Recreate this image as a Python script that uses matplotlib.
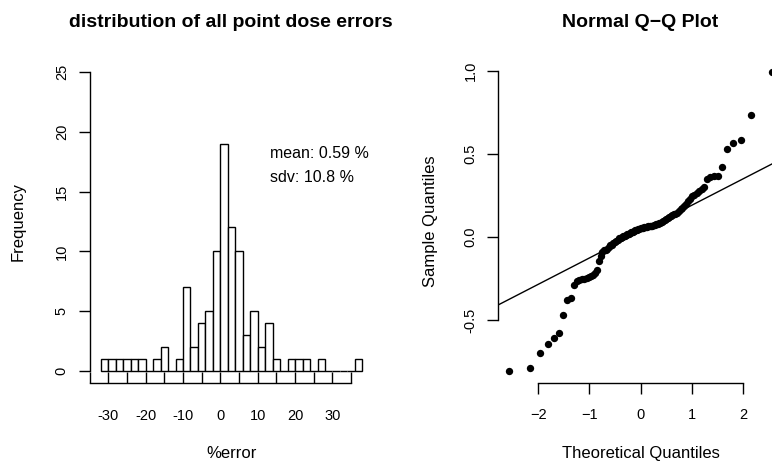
import numpy as np
import matplotlib
matplotlib.use('Agg')
import matplotlib.pyplot as plt
from statistics import NormalDist

plt.rcParams['font.family'] = ['Liberation Sans', 'DejaVu Sans']
plt.rcParams['axes.unicode_minus'] = True

# histogram of point dose errors (%), 2 % wide bins
bin_edges = np.arange(-32, 40, 2)
counts = [1, 1, 1, 1, 1, 1, 0, 1, 2, 0, 1, 7, 2, 4, 5, 10, 19, 12,
          10, 3, 5, 2, 4, 1, 0, 1, 1, 1, 0, 1, 0, 0, 0, 0, 1]
mean_err = 0.59
sdv_err = 10.8

# sorted sample values for the normal Q-Q plot
sample = [-0.806, -0.79, -0.70, -0.645, -0.61, -0.58, -0.47, -0.38, -0.365, -0.29,
          -0.262, -0.258, -0.255, -0.25, -0.245, -0.238, -0.232, -0.225, -0.215, -0.20,
          -0.145, -0.115, -0.09, -0.08, -0.076, -0.072, -0.06, -0.05, -0.045, -0.038,
          -0.03, -0.022, -0.015, -0.008, -0.003, 0.0, 0.004, 0.008, 0.012, 0.016,
          0.02, 0.024, 0.028, 0.033, 0.038, 0.042, 0.045, 0.048, 0.05, 0.052,
          0.054, 0.056, 0.058, 0.06, 0.062, 0.064, 0.066, 0.068, 0.07, 0.072,
          0.075, 0.078, 0.08, 0.083, 0.086, 0.092, 0.098, 0.105, 0.11, 0.115,
          0.12, 0.126, 0.132, 0.138, 0.142, 0.148, 0.158, 0.168, 0.176, 0.185,
          0.2, 0.215, 0.23, 0.245, 0.255, 0.265, 0.275, 0.288, 0.30, 0.35,
          0.36, 0.365, 0.37, 0.424, 0.528, 0.564, 0.584, 0.738, 0.994]

hist_xticks = np.arange(-35, 40, 5)
hist_yticks = [0, 5, 10, 15, 20, 25]
qq_xticks = [-2, -1, 0, 1, 2]
qq_yticks = [-0.5, 0.0, 0.5, 1.0]


def padded(lo, hi, frac=0.04):
    d = (hi - lo) * frac
    return lo - d, hi + d


fig = plt.figure(figsize=(7.72, 4.66), dpi=100)
ax1 = fig.add_axes([0.1161, 0.1781, 0.3668, 0.6931])
ax2 = fig.add_axes([0.6455, 0.1781, 0.3684, 0.6931])

lw = 1.0
tick_len = 8

# --- histogram ---
ax1.bar(bin_edges[:-1], counts, width=np.diff(bin_edges), align='edge',
        color='white', edgecolor='black', linewidth=lw)
ax1.text(13.4, 18.2, 'mean: %.2f %%' % mean_err, fontsize=11.5, va='center', ha='left')
ax1.text(13.4, 16.2, 'sdv: %.1f %%' % sdv_err, fontsize=11.5, va='center', ha='left')
ax1.set_xlim(*padded(bin_edges[0], bin_edges[-1]))
ax1.set_ylim(*padded(0, 25))
ax1.set_xticks(hist_xticks)
ax1.set_xticklabels(['' if v % 10 else '%d' % v for v in hist_xticks])
ax1.set_yticks(hist_yticks)
ax1.spines['bottom'].set_bounds(hist_xticks[0], hist_xticks[-1])
ax1.spines['left'].set_bounds(0, 25)
ax1.tick_params(axis='x', direction='in', length=tick_len, width=lw, pad=19, labelsize=10.5)
ax1.tick_params(axis='y', direction='out', length=tick_len, width=lw, pad=7,
                labelsize=10.5, labelrotation=90)
ax1.set_title('distribution of all point dose errors', fontsize=14, fontweight='bold', pad=24)
ax1.set_xlabel('%error', fontsize=12)
ax1.set_ylabel('Frequency', fontsize=12)
ax1.xaxis.set_label_coords(0.5, -0.195)
ax1.yaxis.set_label_coords(-0.225, 0.5)

# --- normal Q-Q plot ---
n = len(sample)
theo = [NormalDist().inv_cdf((i - 0.5) / n) for i in range(1, n + 1)]
ax2.scatter(theo, sample, s=28, color='black', linewidths=0, zorder=3)
q1, q3 = np.quantile(sample, [0.25, 0.75])
t1, t3 = NormalDist().inv_cdf(0.25), NormalDist().inv_cdf(0.75)
slope = (q3 - q1) / (t3 - t1)
ax2.axline((t1, q1), slope=slope, color='black', linewidth=lw)
ax2.set_xlim(*padded(min(theo), max(theo)))
ax2.set_ylim(*padded(min(sample), max(sample)))
ax2.set_xticks(qq_xticks)
ax2.set_yticks(qq_yticks)
ax2.set_yticklabels(['%.1f' % v for v in qq_yticks])
ax2.spines['bottom'].set_bounds(qq_xticks[0], qq_xticks[-1])
ax2.spines['left'].set_bounds(qq_yticks[0], qq_yticks[-1])
ax2.tick_params(axis='x', direction='out', length=tick_len, width=lw, pad=10, labelsize=10.5)
ax2.tick_params(axis='y', direction='out', length=tick_len, width=lw, pad=7,
                labelsize=10.5, labelrotation=90)
ax2.set_title('Normal Q\u2212Q Plot', fontsize=14, fontweight='bold', pad=24)
ax2.set_xlabel('Theoretical Quantiles', fontsize=12)
ax2.set_ylabel('Sample Quantiles', fontsize=12)
ax2.xaxis.set_label_coords(0.5, -0.195)
ax2.yaxis.set_label_coords(-0.212, 0.5)

for ax in (ax1, ax2):
    ax.spines['top'].set_visible(False)
    ax.spines['right'].set_visible(False)
    for side in ('left', 'bottom'):
        ax.spines[side].set_linewidth(lw)
    for lab in ax.get_yticklabels():
        lab.set_va('center')

fig.savefig('out.png', dpi=100)
